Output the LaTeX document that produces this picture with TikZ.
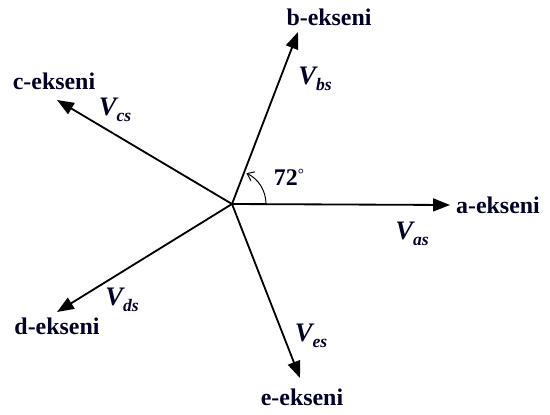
\documentclass[tikz,border=0pt]{standalone}
\usepackage{fontspec}
\setmainfont{Liberation Serif}
\usetikzlibrary{arrows.meta}
\newcommand{\vph}[1]{{\bfseries\itshape V}\raisebox{-0.45ex}{\fontsize{12.5}{12}\selectfont\bfseries\itshape #1}}

\begin{document}
\begin{tikzpicture}[
  x=0.025cm, y=-0.025cm,
  font=\fontsize{17}{19}\selectfont\bfseries,
  ax/.style={-{Triangle[length=4.2mm,width=3.2mm]}, line width=1.3pt, draw=black},
  angarr/.style={-{Straight Barb[length=1.6mm,width=2.4mm]}, line width=0.7pt},
  axlab/.style={inner sep=1pt, text=black!85!blue},
  vlab/.style={inner sep=1pt, text=black!85!blue, font=\fontsize{19}{21}\selectfont}
]
\useasboundingbox (0,0) rectangle (550,414);

% ==== centre and the five axis tips
\coordinate (o) at (232,204);
\foreach \n/\x/\y in {a/450/205, b/298/32, c/57/100, d/57/312, e/300/378} {
  \coordinate (tip\n) at (\x,\y);
  \draw[ax] (o) -- (tip\n);
}

% ==== axis names
\node[axlab] (laba) at (498,205) {a-ekseni};
\node[axlab] (labb) at (329,17)  {b-ekseni};
\node[axlab] (labc) at (54,81)   {c-ekseni};
\node[axlab] (labd) at (57,326)  {d-ekseni};
\node[axlab] (labe) at (302,397) {e-ekseni};

% ==== phase voltages
\node[vlab] (va) at (412,234) {\vph{as}};
\node[vlab] (vb) at (315,79)  {\vph{bs}};
\node[vlab] (vc) at (115,110) {\vph{cs}};
\node[vlab] (vd) at (122,300) {\vph{ds}};
\node[vlab] (ve) at (311,336) {\vph{es}};

% ==== angle between a and b
\draw[angarr] ([shift={(0:34)}]o) arc[start angle=0, end angle=-65, radius=34];
\node[axlab] (ang) at (289,177) {72\raisebox{0.55ex}{\fontsize{11}{11}\selectfont\mdseries °}};

\end{tikzpicture}
\end{document}
